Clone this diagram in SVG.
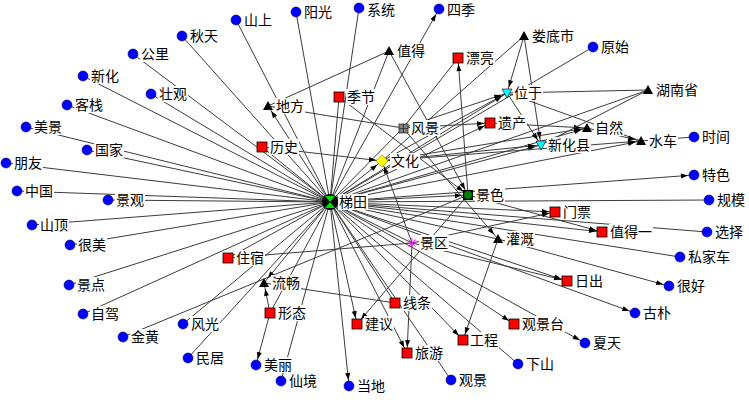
<svg xmlns="http://www.w3.org/2000/svg" width="749" height="400" viewBox="0 0 749 400">
<style>
.e line{stroke:#3c3c3c;stroke-width:1}
.e .a{marker-end:url(#ar)}
.l{font-family:"Noto Sans CJK SC","Noto Sans CJK TC",sans-serif;font-size:14px;fill:#000}
.bg{fill:#fff}
.c{fill:#0000ff;stroke:#00006a;stroke-width:0.6}
.s{fill:#ff0000;stroke:#000;stroke-width:0.8}
.t{fill:#000}
.v{fill:#00ffff;stroke:#000;stroke-width:0.6}
</style>
<defs>
<marker id="ar" viewBox="0 0 7 5" refX="13" refY="2.5" markerWidth="7" markerHeight="5" markerUnits="userSpaceOnUse" orient="auto" overflow="visible"><path d="M0,0L7,2.5L0,5z" fill="#000"/></marker>
</defs>
<rect width="749" height="400" fill="#fff"/>
<g class="e" id="edges">
<line x1="330" y1="202" x2="236" y2="20"/>
<line x1="330" y1="202" x2="182" y2="36"/>
<line x1="330" y1="202" x2="133" y2="54"/>
<line x1="330" y1="202" x2="83" y2="76"/>
<line x1="330" y1="202" x2="151" y2="94"/>
<line x1="330" y1="202" x2="67" y2="105"/>
<line x1="330" y1="202" x2="26" y2="127"/>
<line x1="330" y1="202" x2="87" y2="150"/>
<line x1="330" y1="202" x2="6" y2="163"/>
<line x1="330" y1="202" x2="17" y2="191"/>
<line x1="330" y1="202" x2="108" y2="200"/>
<line x1="330" y1="202" x2="32" y2="225"/>
<line x1="330" y1="202" x2="70" y2="245"/>
<line x1="330" y1="202" x2="69" y2="285"/>
<line x1="330" y1="202" x2="83" y2="314"/>
<line x1="330" y1="202" x2="183" y2="324"/>
<line x1="330" y1="202" x2="188" y2="358"/>
<line x1="330" y1="202" x2="296" y2="12"/>
<line x1="330" y1="202" x2="359" y2="8"/>
<line x1="330" y1="202" x2="593" y2="47"/>
<line class="a" x1="330" y1="202" x2="439" y2="9"/>
<line class="a" x1="330" y1="202" x2="268" y2="106"/>
<line x1="330" y1="202" x2="339" y2="97"/>
<line x1="330" y1="202" x2="262" y2="147"/>
<line x1="330" y1="202" x2="389" y2="51"/>
<line x1="330" y1="202" x2="228" y2="258"/>
<line x1="330" y1="202" x2="281" y2="381"/>
<line x1="330" y1="202" x2="270" y2="313"/>
<line class="a" x1="330" y1="202" x2="264" y2="283"/>
<line class="a" x1="330" y1="202" x2="349" y2="386"/>
<line class="a" x1="330" y1="202" x2="357" y2="324"/>
<line class="a" x1="330" y1="202" x2="407" y2="353"/>
<line x1="330" y1="202" x2="451" y2="380"/>
<line x1="330" y1="202" x2="395" y2="303"/>
<line class="a" x1="330" y1="202" x2="463" y2="340"/>
<line x1="330" y1="202" x2="518" y2="364"/>
<line class="a" x1="330" y1="202" x2="514" y2="324"/>
<line class="a" x1="330" y1="202" x2="585" y2="343"/>
<line class="a" x1="330" y1="202" x2="635" y2="313"/>
<line class="a" x1="330" y1="202" x2="567" y2="281"/>
<line x1="330" y1="202" x2="680" y2="257"/>
<line x1="330" y1="202" x2="707" y2="232"/>
<line class="a" x1="330" y1="202" x2="602" y2="232"/>
<line class="a" x1="330" y1="202" x2="555" y2="212"/>
<line x1="330" y1="202" x2="709" y2="200"/>
<line class="a" x1="330" y1="202" x2="694" y2="175"/>
<line class="a" x1="330" y1="202" x2="468" y2="195"/>
<line class="a" x1="330" y1="202" x2="382" y2="161"/>
<line class="a" x1="330" y1="202" x2="541" y2="145"/>
<line class="a" x1="330" y1="202" x2="587" y2="128"/>
<line class="a" x1="330" y1="202" x2="641" y2="141"/>
<line x1="330" y1="202" x2="648" y2="90"/>
<line class="a" x1="330" y1="202" x2="507" y2="93"/>
<line class="a" x1="330" y1="202" x2="490" y2="123"/>
<line x1="330" y1="202" x2="498" y2="239"/>
<line x1="330" y1="202" x2="412" y2="243"/>
<line x1="330" y1="202" x2="403" y2="128"/>
<line x1="389" y1="51" x2="268" y2="106"/>
<line class="a" x1="389" y1="51" x2="468" y2="195"/>
<line class="a" x1="339" y1="97" x2="468" y2="195"/>
<line x1="268" y1="106" x2="403" y2="128"/>
<line class="a" x1="262" y1="147" x2="382" y2="161"/>
<line x1="458" y1="58" x2="403" y2="128"/>
<line class="a" x1="468" y1="195" x2="458" y2="58"/>
<line x1="524" y1="36" x2="382" y2="161"/>
<line class="a" x1="524" y1="36" x2="507" y2="93"/>
<line class="a" x1="524" y1="36" x2="541" y2="145"/>
<line class="a" x1="403" y1="128" x2="507" y2="93"/>
<line class="a" x1="403" y1="128" x2="490" y2="123"/>
<line class="a" x1="382" y1="161" x2="507" y2="93"/>
<line class="a" x1="382" y1="161" x2="587" y2="128"/>
<line class="a" x1="382" y1="161" x2="541" y2="145"/>
<line class="a" x1="382" y1="161" x2="641" y2="141"/>
<line class="a" x1="490" y1="123" x2="587" y2="128"/>
<line class="a" x1="507" y1="93" x2="541" y2="145"/>
<line x1="507" y1="93" x2="648" y2="90"/>
<line x1="507" y1="93" x2="641" y2="141"/>
<line x1="648" y1="90" x2="541" y2="145"/>
<line class="a" x1="587" y1="128" x2="641" y2="141"/>
<line x1="641" y1="141" x2="694" y2="137"/>
<line class="a" x1="468" y1="195" x2="602" y2="232"/>
<line class="a" x1="468" y1="195" x2="357" y2="324"/>
<line x1="468" y1="195" x2="123" y2="337"/>
<line x1="412" y1="243" x2="228" y2="258"/>
<line class="a" x1="412" y1="243" x2="382" y2="161"/>
<line class="a" x1="412" y1="243" x2="407" y2="353"/>
<line class="a" x1="412" y1="243" x2="555" y2="212"/>
<line class="a" x1="412" y1="243" x2="567" y2="281"/>
<line class="a" x1="403" y1="128" x2="498" y2="239"/>
<line class="a" x1="498" y1="239" x2="463" y2="340"/>
<line class="a" x1="498" y1="239" x2="669" y2="286"/>
<line x1="264" y1="283" x2="395" y2="303"/>
<line class="a" x1="270" y1="313" x2="264" y2="283"/>
<line class="a" x1="270" y1="313" x2="256" y2="365"/>
</g>
<g id="n1"><circle class="c" cx="236" cy="20" r="5"/><rect class="bg" x="243" y="12" width="30" height="16"/><text class="l" x="244" y="25">山上</text></g>
<g id="n2"><circle class="c" cx="182" cy="36" r="5"/><rect class="bg" x="189" y="28" width="30" height="16"/><text class="l" x="190" y="41">秋天</text></g>
<g id="n3"><circle class="c" cx="133" cy="54" r="5"/><rect class="bg" x="140" y="46" width="30" height="16"/><text class="l" x="141" y="59">公里</text></g>
<g id="n4"><circle class="c" cx="83" cy="76" r="5"/><rect class="bg" x="90" y="68" width="30" height="16"/><text class="l" x="91" y="81">新化</text></g>
<g id="n5"><circle class="c" cx="151" cy="94" r="5"/><rect class="bg" x="158" y="86" width="30" height="16"/><text class="l" x="159" y="99">壮观</text></g>
<g id="n6"><circle class="c" cx="67" cy="105" r="5"/><rect class="bg" x="74" y="97" width="30" height="16"/><text class="l" x="75" y="110">客栈</text></g>
<g id="n7"><circle class="c" cx="26" cy="127" r="5"/><rect class="bg" x="33" y="119" width="30" height="16"/><text class="l" x="34" y="132">美景</text></g>
<g id="n8"><circle class="c" cx="87" cy="150" r="5"/><rect class="bg" x="94" y="142" width="30" height="16"/><text class="l" x="95" y="155">国家</text></g>
<g id="n9"><circle class="c" cx="6" cy="163" r="5"/><rect class="bg" x="13" y="155" width="30" height="16"/><text class="l" x="14" y="168">朋友</text></g>
<g id="n10"><circle class="c" cx="17" cy="191" r="5"/><rect class="bg" x="24" y="183" width="30" height="16"/><text class="l" x="25" y="196">中国</text></g>
<g id="n11"><circle class="c" cx="108" cy="200" r="5"/><rect class="bg" x="115" y="192" width="30" height="16"/><text class="l" x="116" y="205">景观</text></g>
<g id="n12"><circle class="c" cx="32" cy="225" r="5"/><rect class="bg" x="39" y="217" width="30" height="16"/><text class="l" x="40" y="230">山顶</text></g>
<g id="n13"><circle class="c" cx="70" cy="245" r="5"/><rect class="bg" x="77" y="237" width="30" height="16"/><text class="l" x="78" y="250">很美</text></g>
<g id="n14"><circle class="c" cx="69" cy="285" r="5"/><rect class="bg" x="76" y="277" width="30" height="16"/><text class="l" x="77" y="290">景点</text></g>
<g id="n15"><circle class="c" cx="83" cy="314" r="5"/><rect class="bg" x="90" y="306" width="30" height="16"/><text class="l" x="91" y="319">自驾</text></g>
<g id="n16"><circle class="c" cx="123" cy="337" r="5"/><rect class="bg" x="130" y="329" width="30" height="16"/><text class="l" x="131" y="342">金黄</text></g>
<g id="n17"><circle class="c" cx="183" cy="324" r="5"/><rect class="bg" x="190" y="316" width="30" height="16"/><text class="l" x="191" y="329">风光</text></g>
<g id="n18"><circle class="c" cx="188" cy="358" r="5"/><rect class="bg" x="195" y="350" width="30" height="16"/><text class="l" x="196" y="363">民居</text></g>
<g id="n19"><circle class="c" cx="296" cy="12" r="5"/><rect class="bg" x="303" y="4" width="30" height="16"/><text class="l" x="304" y="17">阳光</text></g>
<g id="n20"><circle class="c" cx="359" cy="8" r="5"/><rect class="bg" x="366" y="0" width="30" height="16"/><text class="l" x="367" y="15">系统</text></g>
<g id="n21"><circle class="c" cx="439" cy="9" r="5"/><rect class="bg" x="446" y="1" width="30" height="16"/><text class="l" x="447" y="15">四季</text></g>
<g id="n22"><circle class="c" cx="593" cy="47" r="5"/><rect class="bg" x="600" y="39" width="30" height="16"/><text class="l" x="601" y="52">原始</text></g>
<g id="n23"><circle class="c" cx="694" cy="137" r="5"/><rect class="bg" x="701" y="129" width="30" height="16"/><text class="l" x="702" y="142">时间</text></g>
<g id="n24"><circle class="c" cx="694" cy="175" r="5"/><rect class="bg" x="701" y="167" width="30" height="16"/><text class="l" x="702" y="180">特色</text></g>
<g id="n25"><circle class="c" cx="709" cy="200" r="5"/><rect class="bg" x="716" y="192" width="30" height="16"/><text class="l" x="717" y="205">规模</text></g>
<g id="n26"><circle class="c" cx="707" cy="232" r="5"/><rect class="bg" x="714" y="224" width="30" height="16"/><text class="l" x="715" y="237">选择</text></g>
<g id="n27"><circle class="c" cx="680" cy="257" r="5"/><rect class="bg" x="687" y="249" width="44" height="16"/><text class="l" x="688" y="262">私家车</text></g>
<g id="n28"><circle class="c" cx="669" cy="286" r="5"/><rect class="bg" x="676" y="278" width="30" height="16"/><text class="l" x="677" y="291">很好</text></g>
<g id="n29"><circle class="c" cx="635" cy="313" r="5"/><rect class="bg" x="642" y="305" width="30" height="16"/><text class="l" x="643" y="318">古朴</text></g>
<g id="n30"><circle class="c" cx="585" cy="343" r="5"/><rect class="bg" x="592" y="335" width="30" height="16"/><text class="l" x="593" y="348">夏天</text></g>
<g id="n31"><circle class="c" cx="518" cy="364" r="5"/><rect class="bg" x="525" y="356" width="30" height="16"/><text class="l" x="526" y="369">下山</text></g>
<g id="n32"><circle class="c" cx="256" cy="365" r="5"/><rect class="bg" x="263" y="357" width="30" height="16"/><text class="l" x="264" y="370">美丽</text></g>
<g id="n33"><circle class="c" cx="281" cy="381" r="5"/><rect class="bg" x="288" y="373" width="30" height="16"/><text class="l" x="289" y="386">仙境</text></g>
<g id="n34"><circle class="c" cx="349" cy="386" r="5"/><rect class="bg" x="356" y="378" width="30" height="16"/><text class="l" x="357" y="391">当地</text></g>
<g id="n35"><circle class="c" cx="451" cy="380" r="5"/><rect class="bg" x="458" y="372" width="30" height="16"/><text class="l" x="459" y="385">观景</text></g>
<g id="n36"><rect class="s" x="223" y="253" width="10" height="10"/><rect class="bg" x="235" y="250" width="30" height="16"/><text class="l" x="236" y="263">住宿</text></g>
<g id="n37"><rect class="s" x="453" y="53" width="10" height="10"/><rect class="bg" x="465" y="50" width="30" height="16"/><text class="l" x="466" y="63">漂亮</text></g>
<g id="n38"><rect class="s" x="334" y="92" width="10" height="10"/><rect class="bg" x="346" y="89" width="30" height="16"/><text class="l" x="347" y="102">季节</text></g>
<g id="n39"><rect class="s" x="257" y="142" width="10" height="10"/><rect class="bg" x="269" y="139" width="30" height="16"/><text class="l" x="270" y="152">历史</text></g>
<g id="n40"><rect class="s" x="485" y="118" width="10" height="10"/><rect class="bg" x="497" y="115" width="30" height="16"/><text class="l" x="498" y="128">遗产</text></g>
<g id="n41"><rect class="s" x="550" y="207" width="10" height="10"/><rect class="bg" x="562" y="204" width="30" height="16"/><text class="l" x="563" y="217">门票</text></g>
<g id="n42"><rect class="s" x="597" y="227" width="10" height="10"/><rect class="bg" x="609" y="224" width="44" height="16"/><text class="l" x="610" y="237">值得一</text></g>
<g id="n43"><rect class="s" x="562" y="276" width="10" height="10"/><rect class="bg" x="574" y="273" width="30" height="16"/><text class="l" x="575" y="286">日出</text></g>
<g id="n44"><rect class="s" x="509" y="319" width="10" height="10"/><rect class="bg" x="521" y="316" width="44" height="16"/><text class="l" x="522" y="329">观景台</text></g>
<g id="n45"><rect class="s" x="390" y="298" width="10" height="10"/><rect class="bg" x="402" y="295" width="30" height="16"/><text class="l" x="403" y="308">线条</text></g>
<g id="n46"><rect class="s" x="265" y="308" width="10" height="10"/><rect class="bg" x="277" y="305" width="30" height="16"/><text class="l" x="278" y="318">形态</text></g>
<g id="n47"><rect class="s" x="352" y="319" width="10" height="10"/><rect class="bg" x="364" y="316" width="30" height="16"/><text class="l" x="365" y="329">建议</text></g>
<g id="n48"><rect class="s" x="458" y="335" width="10" height="10"/><rect class="bg" x="469" y="332" width="30" height="16"/><text class="l" x="470" y="345">工程</text></g>
<g id="n49"><rect class="s" x="402" y="348" width="10" height="10"/><rect class="bg" x="414" y="345" width="30" height="16"/><text class="l" x="415" y="358">旅游</text></g>
<g id="n50"><path class="t" d="M389,46L394,55H384Z"/><rect class="bg" x="396" y="43" width="30" height="16"/><text class="l" x="397" y="56">值得</text></g>
<g id="n51"><path class="t" d="M268,101L273,110H263Z"/><rect class="bg" x="275" y="98" width="30" height="16"/><text class="l" x="276" y="111">地方</text></g>
<g id="n52"><path class="t" d="M524,31L529,40H519Z"/><rect class="bg" x="531" y="28" width="44" height="16"/><text class="l" x="532" y="41">娄底市</text></g>
<g id="n53"><path class="t" d="M648,85L653,94H643Z"/><rect class="bg" x="655" y="82" width="44" height="16"/><text class="l" x="656" y="95">湖南省</text></g>
<g id="n54"><path class="t" d="M587,123L592,132H582Z"/><rect class="bg" x="594" y="120" width="30" height="16"/><text class="l" x="595" y="133">自然</text></g>
<g id="n55"><path class="t" d="M641,136L646,145H636Z"/><rect class="bg" x="648" y="133" width="30" height="16"/><text class="l" x="649" y="146">水车</text></g>
<g id="n56"><path class="t" d="M498,234L503,243H493Z"/><rect class="bg" x="505" y="231" width="30" height="16"/><text class="l" x="506" y="244">灌溉</text></g>
<g id="n57"><path class="t" d="M264,278L269,287H259Z"/><rect class="bg" x="271" y="275" width="30" height="16"/><text class="l" x="272" y="288">流畅</text></g>
<g id="n58"><path class="v" d="M502,89H512L507,98Z"/><rect class="bg" x="513" y="85" width="30" height="16"/><text class="l" x="514" y="98">位于</text></g>
<g id="n59"><path class="v" d="M536,141H546L541,150Z"/><rect class="bg" x="547" y="137" width="44" height="16"/><text class="l" x="548" y="150">新化县</text></g>
<g id="n60"><path d="M382,155L388,161L382,167L376,161Z" fill="#ffff00" stroke="#8a8a00" stroke-width="0.6"/><rect class="bg" x="390" y="153" width="30" height="16"/><text class="l" x="391" y="166">文化</text></g>
<g id="n61"><rect x="399" y="124" width="9" height="9" fill="#808080" stroke="#303030" stroke-width="0.8"/><path d="M403.5,124V133M399,128.5H408" stroke="#303030" stroke-width="0.8"/><rect class="bg" x="410" y="120" width="30" height="16"/><text class="l" x="411" y="133">风景</text></g>
<g id="n62"><rect x="463" y="190" width="10" height="10" fill="#000"/><circle cx="468" cy="195" r="4" fill="#008000"/><rect class="bg" x="475" y="187" width="30" height="16"/><text class="l" x="476" y="200">景色</text></g>
<g id="n63"><path d="M407,243H417M412,238V248M408.5,239.5L415.5,246.5M415.5,239.5L408.5,246.5" stroke="#ff00ff" stroke-width="0.9"/><rect class="bg" x="419" y="235" width="30" height="16"/><text class="l" x="420" y="248">景区</text></g>
<g id="n64"><circle cx="330" cy="202" r="8" fill="#000"/><path d="M325,196H335L325,208H335Z" fill="#00e000"/><rect class="bg" x="338" y="194" width="30" height="16"/><text class="l" x="339" y="207">梯田</text></g>
</svg>
